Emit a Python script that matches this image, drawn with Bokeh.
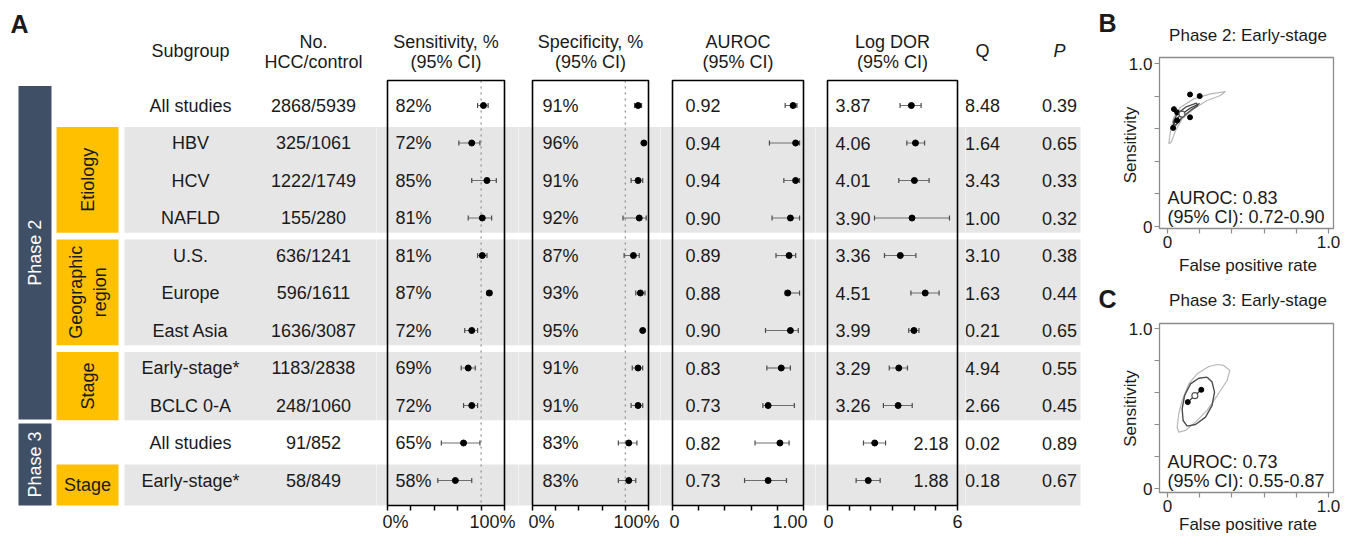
import math
from bokeh.plotting import figure
from bokeh.layouts import row, column
from bokeh.models import Range1d, FixedTicker, CustomJSTickFormatter
from bokeh.embed import file_html
from bokeh.resources import INLINE
from bokeh.core.properties import value

# ---------------- data ----------------
subgroups = ["All studies", "HBV", "HCV", "NAFLD", "U.S.", "Europe", "East Asia",
             "Early-stage*", "BCLC 0-A", "All studies", "Early-stage*"]
counts = ["2868/5939", "325/1061", "1222/1749", "155/280", "636/1241", "596/1611",
          "1636/3087", "1183/2838", "248/1060", "91/852", "58/849"]

sens = [82, 72, 85, 81, 81, 87, 72, 69, 72, 65, 58]
sens_lo = [77, 61, 72, 69, 77, 85, 66, 63, 65, 46, 43]
sens_hi = [86, 79, 93, 89, 85, 89, 77, 75, 77, 79, 72]

spec = [91, 96, 91, 92, 87, 93, 95, 91, 91, 83, 83]
spec_lo = [88, 95, 85, 78, 79, 89, 94, 86, 85, 74, 74]
spec_hi = [94, 97, 95, 98, 92, 97, 96, 95, 95, 90, 89]

auroc = [0.92, 0.94, 0.94, 0.90, 0.89, 0.88, 0.90, 0.83, 0.73, 0.82, 0.73]
auroc_lo = [0.86, 0.74, 0.85, 0.76, 0.79, 0.86, 0.71, 0.72, 0.69, 0.63, 0.55]
auroc_hi = [0.95, 0.97, 0.97, 0.97, 0.94, 0.97, 0.96, 0.90, 0.93, 0.89, 0.87]

logdor = [3.87, 4.06, 4.01, 3.90, 3.36, 4.51, 3.99, 3.29, 3.26, 2.18, 1.88]
logdor_lo = [3.35, 3.66, 3.29, 2.17, 2.63, 3.85, 3.75, 2.85, 2.58, 1.66, 1.32]
logdor_hi = [4.32, 4.48, 4.69, 5.63, 4.08, 5.15, 4.22, 3.69, 3.91, 2.68, 2.43]

q_stat = ["8.48", "1.64", "3.43", "1.00", "3.10", "1.63", "0.21", "4.94", "2.66", "0.02", "0.18"]
p_val = ["0.39", "0.65", "0.33", "0.32", "0.38", "0.44", "0.65", "0.55", "0.45", "0.89", "0.67"]

phase_labels = ["Phase 2", "Phase 3"]
phase_first = [0, 9]
phase_last = [8, 10]
group_labels = ["Etiology", "Geographic\nregion", "Stage", "Stage"]
group_first = [1, 4, 7, 10]
group_last = [3, 6, 8, 10]

pct_ticks = [0, 20, 40, 60, 80, 100]
auroc_ticks = [0, 0.2, 0.4, 0.6, 0.8, 1.0]
dor_ticks = [0, 1, 2, 3, 4, 5, 6]
pct_tick_labels = ["0%", "100%"]
auroc_tick_labels = ["0", "1.00"]
dor_tick_labels = ["0", "6"]
sens_ref = 80
spec_ref = 80
roc_ticks = [0, 0.2, 0.4, 0.6, 0.8, 1.0]

# Panel B (phase 2, early stage)
b_study_fpr = [0.04, 0.06, 0.14, 0.20, 0.06, 0.035, 0.14]
b_study_sens = [0.72, 0.70, 0.81, 0.80, 0.65, 0.605, 0.67]
b_pred_fpr = [0.008, 0.019, 0.039, 0.081, 0.163, 0.267, 0.36, 0.329, 0.246, 0.163, 0.091, 0.05, 0.023, 0.008]
b_pred_sens = [0.507, 0.589, 0.67, 0.732, 0.783, 0.814, 0.828, 0.804, 0.773, 0.722, 0.66, 0.589, 0.517, 0.507]
b_conf_fpr = [0.035, 0.06, 0.112, 0.18, 0.188, 0.143, 0.091, 0.05, 0.035]
b_conf_sens = [0.64, 0.691, 0.732, 0.757, 0.742, 0.712, 0.67, 0.62, 0.64]
b_curve_fpr = [0.025, 0.05, 0.09, 0.14, 0.20]
b_curve_sens = [0.60, 0.655, 0.69, 0.725, 0.755]

# Panel C (phase 3, early stage)
c_study_fpr = [0.126, 0.21]
c_study_sens = [0.54, 0.617]
c_conf_fpr = [0.246, 0.277, 0.292, 0.277, 0.236, 0.174, 0.122, 0.097, 0.091, 0.106, 0.143, 0.194, 0.246]
c_conf_sens = [0.696, 0.665, 0.602, 0.519, 0.446, 0.40, 0.39, 0.425, 0.498, 0.581, 0.654, 0.689, 0.696]
c_pred_fpr = [0.35, 0.387, 0.37, 0.309, 0.246, 0.174, 0.112, 0.07, 0.06, 0.07, 0.091, 0.132, 0.184, 0.257, 0.309, 0.35]
c_pred_sens = [0.769, 0.737, 0.675, 0.581, 0.488, 0.415, 0.363, 0.352, 0.383, 0.467, 0.55, 0.654, 0.717, 0.7625, 0.775, 0.769]

# ---------------- style / layout ----------------
FONT = "Liberation Sans"
INK = "#1a1a1a"
GRAY = "#e6e6e6"
SLATE = "#3e4f66"
YELLOW = "#ffc000"
FS = "18px"

H = 534
ROW0_PX, ROW_PX = 105.0, 37.5


def r_of(px):
    return (px - ROW0_PX) / ROW_PX


Y_TOP = r_of(0)
Y_BOT = r_of(H)
BOX_TOP = r_of(80)
BOX_BOT = r_of(505)
HEAD1 = r_of(41)
HEAD2 = r_of(61)
HEADM = r_of(50)
TICKLAB = r_of(521)

rows = list(range(len(subgroups)))
last_row = rows[-1]
band_top = [f - 0.43 for f in group_first]
band_bot = [BOX_BOT if l == last_row else l + 0.39 for l in group_last]
phase_top = [f - 0.52 for f in phase_first]
phase_bot = [BOX_BOT if l == last_row else l + 0.37 for l in phase_last]

yr = Range1d(Y_BOT, Y_TOP)


def txt(p, xs, ys, texts, size=FS, align="center", color=INK, style="normal", angle=0.0, dx=0):
    p.text(x=xs, y=ys, text=texts, text_font=value(FONT), text_font_size=size,
           text_align=align, text_baseline="middle", text_color=color,
           text_font_style=style, angle=angle, x_offset=dx)


def bare(x0, x1):
    p = figure(width=x1 - x0, height=H, x_range=Range1d(x0, x1), y_range=yr,
               output_backend="svg", toolbar_location=None,
               x_axis_location=None, y_axis_location=None,
               min_border=0, outline_line_color=None)
    p.grid.visible = False
    return p


# ---- left table ----
left = bare(0, 376)
left.quad(left=124, right=390, top=band_top, bottom=band_bot, fill_color=GRAY, line_color=None)
left.quad(left=18, right=51, top=phase_top, bottom=phase_bot, fill_color=SLATE, line_color=None)
left.quad(left=56, right=118, top=band_top, bottom=band_bot, fill_color=YELLOW, line_color=None)
txt(left, [34.5] * 2, [(a + b) / 2 for a, b in zip(phase_top, phase_bot)], phase_labels,
    color="white", angle=math.pi / 2)
for lab, a, b, f, l in zip(group_labels, band_top, band_bot, group_first, group_last):
    txt(left, [87], [(a + b) / 2], [lab], angle=(math.pi / 2 if l > f else 0.0))
txt(left, [190] * len(rows), rows, subgroups)
txt(left, [313] * len(rows), rows, counts)
txt(left, [190], [HEADM], ["Subgroup"])
txt(left, [313, 313], [HEAD1, HEAD2], ["No.", "HCC/control"])
txt(left, [10], [r_of(23.5)], ["A"], size="25px", align="left", style="bold")


def forest(fig_l, fig_r, box_l, box_r, ticks, est, lo, hi, labels, head, dx,
           tick_labels, tick_align, tick_dx, ref=None, right_rows=()):
    lim0, lim1 = ticks[0], ticks[-1]
    ppu = (box_r - box_l) / (lim1 - lim0)
    xr = Range1d(lim0 - (box_l - fig_l) / ppu, lim1 + (fig_r - box_r) / ppu)
    pad = (xr.end - xr.start) * 0.1
    p = figure(width=fig_r - fig_l, height=H, x_range=xr, y_range=yr,
               output_backend="svg", toolbar_location=None, y_axis_location=None,
               min_border=0, outline_line_color=None)
    p.grid.visible = False
    p.quad(left=xr.start - pad, right=xr.end + pad, top=band_top, bottom=band_bot,
           fill_color=GRAY, line_color=None)
    if ref is not None:
        p.segment(x0=[ref], y0=[BOX_TOP], x1=[ref], y1=[BOX_BOT], line_color="#8a8a8a",
                  line_dash="dotted", line_width=1.2)
    p.quad(left=[lim0], right=[lim1], top=[BOX_TOP], bottom=[BOX_BOT], fill_color=None,
           line_color="black", line_width=1.6)
    p.segment(x0=lo, y0=rows, x1=hi, y1=rows, line_color="#6e6e6e", line_width=1.2)
    p.scatter(x=lo + hi, y=rows + rows, marker="dash", angle=math.pi / 2, size=5,
              line_color="#4a4a4a", line_width=1.2)
    p.scatter(x=est, y=rows, size=6, fill_color="black", line_color="black")
    lrows = [r for r in rows if r not in right_rows]
    txt(p, [lim0] * len(lrows), lrows, [labels[r] for r in lrows], align="left", dx=dx)
    if right_rows:
        rr = list(right_rows)
        txt(p, [lim1] * len(rr), rr, [labels[r] for r in rr], align="right", dx=-9)
    mid = (lim0 + lim1) / 2
    txt(p, [mid, mid], [HEAD1, HEAD2], [head, "(95% CI)"])
    ax = p.xaxis[0]
    ax.fixed_location = BOX_BOT
    ax.ticker = FixedTicker(ticks=ticks)
    ax.formatter = CustomJSTickFormatter(code="return '';")
    ax.major_label_text_font_size = "8px"
    ax.axis_line_color = None
    ax.major_tick_line_color = "black"
    ax.major_tick_line_width = 1.5
    ax.major_tick_in = 0
    ax.major_tick_out = 5
    ax.minor_tick_line_color = None
    for t, s, al, d in zip([lim0, lim1], tick_labels, tick_align, tick_dx):
        txt(p, [t], [TICKLAB], [s], align=al, dx=d)
    return p


f_sens = forest(376, 518, 387, 504, pct_ticks, sens, sens_lo, sens_hi,
                [f"{v}%" for v in sens], "Sensitivity, %", 8,
                pct_tick_labels, ["left", "right"], [-5, 11], ref=sens_ref)
f_spec = forest(518, 660, 532, 648, pct_ticks, spec, spec_lo, spec_hi,
                [f"{v}%" for v in spec], "Specificity, %", 10,
                pct_tick_labels, ["left", "right"], [-4, 11], ref=spec_ref)
f_auc = forest(660, 815, 672, 803, auroc_ticks, auroc, auroc_lo, auroc_hi,
               [f"{v:.2f}" for v in auroc], "AUROC", 13,
               auroc_tick_labels, ["center", "right"], [2, 4])
f_dor = forest(815, 965, 827, 957, dor_ticks, logdor, logdor_lo, logdor_hi,
               [f"{v:.2f}" for v in logdor], "Log DOR", 8,
               dor_tick_labels, ["center", "center"], [1, 0], right_rows=(9, 10))

# ---- Q / P ----
qp = bare(965, 1095)
qp.quad(left=950, right=1080, top=band_top, bottom=band_bot, fill_color=GRAY, line_color=None)
txt(qp, [982] * len(rows), rows, q_stat)
txt(qp, [1059] * len(rows), rows, p_val)
txt(qp, [982], [HEADM], ["Q"])
txt(qp, [1059], [HEADM], ["P"], style="italic")


# ---- B / C (page-pixel layout mapped into each panel's data units) ----
RX0, RX1 = 1095, 1350
X0PX, KX = 1167.0, 161.0
SPLIT = 280


def roc(top_px, bot_px, y0_px, ky, box_t, box_b, letter, letter_px, title, title_px,
        au_px, xlab_px, st_x, st_y, pr_x, pr_y, cf_x, cf_y, cv_x, cv_y,
        sum_x, sum_y, au, au_lo, au_hi):
    def dx(px):
        return (px - X0PX) / KX

    def dy(py):
        return (y0_px - py) / ky

    p = figure(width=RX1 - RX0, height=bot_px - top_px,
               x_range=Range1d(dx(RX0), dx(RX1)), y_range=Range1d(dy(bot_px), dy(top_px)),
               output_backend="svg", toolbar_location=None, min_border=0,
               outline_line_color=None)
    p.grid.visible = False
    bl, br, bt, bb = dx(1159), dx(1333), dy(box_t), dy(box_b)
    p.quad(left=[bl], right=[br], top=[bt], bottom=[bb], fill_color=None,
           line_color="#8c8c8c", line_width=1.3)
    p.xaxis.fixed_location = bb
    p.yaxis.fixed_location = bl
    for ax in (p.xaxis[0], p.yaxis[0]):
        ax.ticker = FixedTicker(ticks=roc_ticks)
        ax.formatter = CustomJSTickFormatter(code="return tick == 0 ? '0' : (tick == 1 ? '1.0' : '');")
        ax.axis_line_color = None
        ax.major_tick_line_color = "#8c8c8c"
        ax.major_tick_line_width = 1.2
        ax.major_tick_in = 0
        ax.major_tick_out = 5
        ax.minor_tick_line_color = None
        ax.major_label_text_font = FONT
        ax.major_label_text_font_size = "17px"
        ax.major_label_text_color = INK
        ax.major_label_standoff = 2
    p.line(pr_x, pr_y, line_color="#b8b8b8", line_width=1.2)
    p.line(cf_x, cf_y, line_color="#4d4d4d", line_width=1.4)
    p.line(cv_x, cv_y, line_color="#333333", line_width=1.2)
    p.scatter(st_x, st_y, size=5, fill_color="black", line_color="black")
    p.scatter([sum_x], [sum_y], size=6, fill_color="white", line_color="#555555", line_width=1.2)
    txt(p, [dx(1107)], [dy(letter_px)], [letter], size="25px", style="bold")
    txt(p, [0.5], [dy(title_px)], [title], size="17px")
    txt(p, [dx(1130)], [0.5], ["Sensitivity"], size="17px", angle=math.pi / 2)
    txt(p, [0.5], [dy(xlab_px)], ["False positive rate"], size="17px")
    txt(p, [0, 0], [dy(au_px), dy(au_px + 19.5)],
        [f"AUROC: {au:.2f}", f"(95% CI): {au_lo:.2f}-{au_hi:.2f}"], align="left")
    return p


ib, ic = 7, 10
fig_b = roc(0, SPLIT, 226.0, 163.0, 57, 228, "B", 22, "Phase 2: Early-stage", 35, 197, 265,
            b_study_fpr, b_study_sens, b_pred_fpr, b_pred_sens, b_conf_fpr, b_conf_sens,
            b_curve_fpr, b_curve_sens, 1 - spec[ib] / 100, sens[ib] / 100,
            auroc[ib], auroc_lo[ib], auroc_hi[ib])
fig_c = roc(SPLIT, H, 488.0, 160.0, 323, 492, "C", 298, "Phase 3: Early-stage", 300, 461, 524,
            c_study_fpr, c_study_sens, c_pred_fpr, c_pred_sens, c_conf_fpr, c_conf_sens,
            c_study_fpr, c_study_sens, 1 - spec[ic] / 100, sens[ic] / 100,
            auroc[ic], auroc_lo[ic], auroc_hi[ic])

layout = row(left, f_sens, f_spec, f_auc, f_dor, qp, column(fig_b, fig_c))

open("out.html", "w").write(file_html(layout, INLINE))
